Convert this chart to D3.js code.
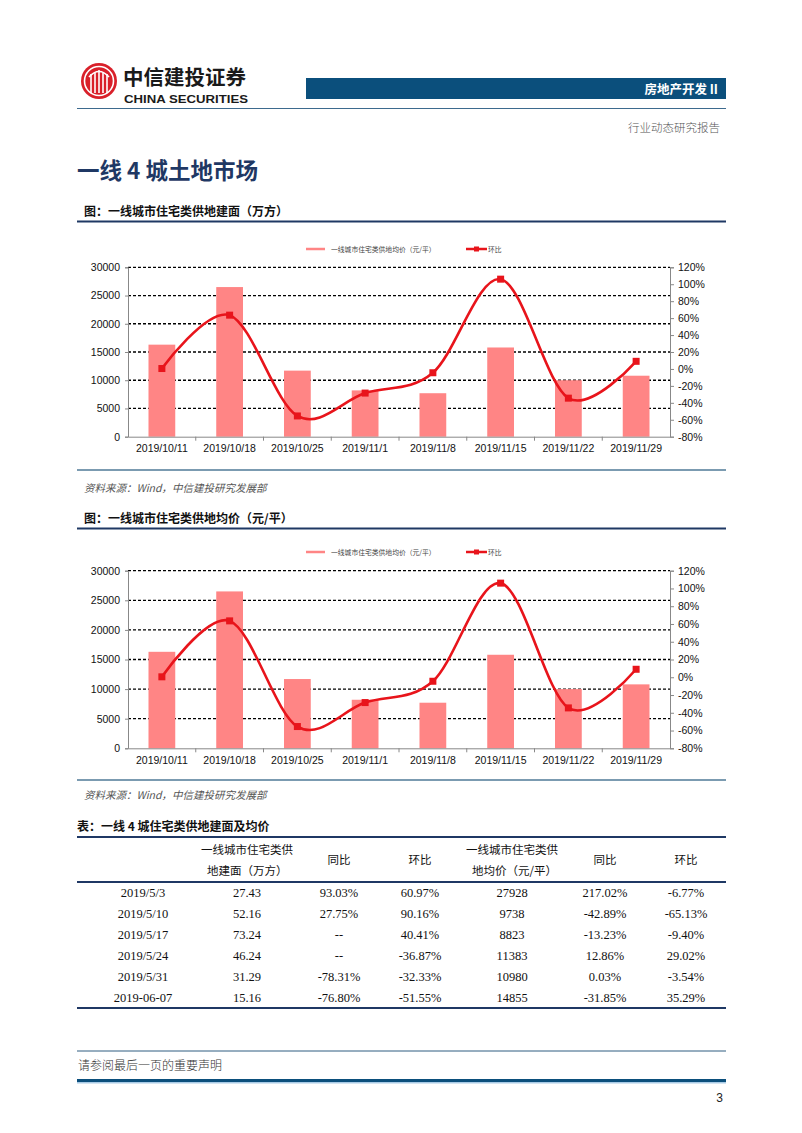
<!DOCTYPE html>
<html><head><meta charset="utf-8">
<script src="https://cdn.jsdelivr.net/npm/d3@7/dist/d3.min.js"></script>
<style>
html,body{margin:0;padding:0;background:#fff;}
svg{display:block;}
</style></head>
<body>
<svg id="page" width="802" height="1133"></svg>
<script>
// ---------- data ----------
const categories = ["2019/10/11","2019/10/18","2019/10/25","2019/11/1","2019/11/8","2019/11/15","2019/11/22","2019/11/29"];
const barValues = [16300, 26500, 11700, 8200, 7700, 15800, 10000, 10800];
const momValues = [0.5, 63.5, -55.5, -28.5, -4.5, 106, -34.5, 9];
const leftTicks = [0, 5000, 10000, 15000, 20000, 25000, 30000];
const rightTicks = [-80, -60, -40, -20, 0, 20, 40, 60, 80, 100, 120];
const barLegend = "一线城市住宅类供地均价（元/平）";
const lineLegend = "环比";

const tableHeader = [["", ""], ["一线城市住宅类供", "地建面（万方）"], ["同比"], ["环比"], ["一线城市住宅类供", "地均价（元/平）"], ["同比"], ["环比"]];
const tableDates = ["2019/5/3","2019/5/10","2019/5/17","2019/5/24","2019/5/31","2019-06-07"];
const tableArea = ["27.43","52.16","73.24","46.24","31.29","15.16"];
const tableAreaYoy = ["93.03%","27.75%","--","--","-78.31%","-76.80%"];
const tableAreaMom = ["60.97%","90.16%","40.41%","-36.87%","-32.33%","-51.55%"];
const tablePrice = ["27928","9738","8823","11383","10980","14855"];
const tablePriceYoy = ["217.02%","-42.89%","-13.23%","12.86%","0.03%","-31.85%"];
const tablePriceMom = ["-6.77%","-65.13%","-9.40%","29.02%","-3.54%","35.29%"];

// ---------- page ----------
const svg = d3.select("#page");
const CJK = "'Noto Sans CJK SC','Noto Sans',sans-serif";
const SANS = "'Liberation Sans',Arial,sans-serif";
const SERIF = "'Liberation Serif','Times New Roman',serif";
const NAVY = "#1f3864";
const BLUE = "#0b4f7c";

// logo
const logo = svg.append("g");
logo.append("circle").attr("cx", 99).attr("cy", 81).attr("r", 18).attr("fill", "#d9202a");
logo.append("circle").attr("cx", 99).attr("cy", 81).attr("r", 14.5).attr("fill", "none").attr("stroke", "#fff").attr("stroke-width", 1.6);
[-8, -4, 0, 4, 8].forEach((dx, i) => {
  logo.append("line").attr("x1", 99 + dx).attr("x2", 99 + dx)
    .attr("y1", 73 - (i % 2 ? 0 : 3) + (Math.abs(dx) === 8 ? 4 : 0)).attr("y2", 93)
    .attr("stroke", "#fff").attr("stroke-width", 1.6);
});
logo.append("path").attr("d", "M89,77 Q99,66 109,77").attr("fill", "none").attr("stroke", "#fff").attr("stroke-width", 1.6);
svg.append("text").attr("x", 123).attr("y", 84.5).text("中信建投证券")
  .attr("font-family", CJK).attr("font-weight", 700).attr("font-size", 20.5).attr("fill", "#1a1a1a");
svg.append("text").attr("x", 124).attr("y", 102.5).text("CHINA SECURITIES")
  .attr("font-family", SANS).attr("font-weight", 700).attr("font-size", 11.5).attr("fill", "#1a1a1a")
  .attr("textLength", 124).attr("lengthAdjust", "spacingAndGlyphs");

svg.append("rect").attr("x", 306).attr("y", 78).attr("width", 420).attr("height", 21).attr("fill", BLUE);
svg.append("text").attr("x", 718).attr("y", 94).attr("text-anchor", "end").text("房地产开发 II")
  .attr("font-family", CJK).attr("font-weight", 700).attr("font-size", 12.5).attr("fill", "#fff");
svg.append("line").attr("x1", 77).attr("x2", 726).attr("y1", 108.5).attr("y2", 108.5).attr("stroke", "#3d6a8e").attr("stroke-width", 1.2);
svg.append("text").attr("x", 720).attr("y", 132).attr("text-anchor", "end").text("行业动态研究报告")
  .attr("font-family", CJK).attr("font-weight", 300).attr("font-size", 11.5).attr("fill", "#555");

svg.append("text").attr("x", 77).attr("y", 179).text("一线 4 城土地市场")
  .attr("font-family", CJK).attr("font-weight", 700).attr("font-size", 22.5).attr("fill", NAVY);

function sectionTitle(y, text, lineY) {
  svg.append("text").attr("x", 84).attr("y", y).text(text)
    .attr("font-family", CJK).attr("font-weight", 700).attr("font-size", 12).attr("fill", "#111");
  svg.append("line").attr("x1", 77).attr("x2", 726).attr("y1", lineY).attr("y2", lineY)
    .attr("stroke", NAVY).attr("stroke-width", 2);
}
function sourceNote(lineY, y) {
  svg.append("line").attr("x1", 77).attr("x2", 726).attr("y1", lineY).attr("y2", lineY)
    .attr("stroke", "#4f7a97").attr("stroke-width", 1.6);
  svg.append("text").attr("x", 84).attr("y", y).text("资料来源：Wind，中信建投研究发展部")
    .attr("font-family", CJK).attr("font-style", "italic").attr("font-weight", 400).attr("font-size", 10.5).attr("fill", "#555");
}

// ---------- charts ----------
function drawChart(top, bottom, legendY) {
  const left = 128, right = 670;
  const g = svg.append("g");
  const x = d3.scaleBand().domain(categories).range([left, right]).paddingInner(0).paddingOuter(0);
  const yL = d3.scaleLinear().domain([0, 30000]).range([bottom, top]);
  const yR = d3.scaleLinear().domain([-80, 120]).range([bottom, top]);
  const bw = x.bandwidth() * 0.395;

  // grid
  g.append("g").selectAll("line").data(leftTicks.filter(d => d > 0)).join("line")
    .attr("x1", left).attr("x2", right).attr("y1", d => yL(d)).attr("y2", d => yL(d))
    .attr("stroke", "#000").attr("stroke-width", 1.3).attr("stroke-dasharray", "3,2");

  // bars
  g.append("g").selectAll("rect").data(barValues).join("rect")
    .attr("x", (d, i) => x(categories[i]) + x.bandwidth() / 2 - bw / 2)
    .attr("width", bw)
    .attr("y", d => yL(d)).attr("height", d => bottom - yL(d))
    .attr("fill", "#ff8585");

  // axes
  const axL = d3.axisLeft(yL).tickValues(leftTicks).tickSize(3).tickPadding(5).tickFormat(d3.format("d"));
  const gl = g.append("g").attr("transform", `translate(${left},0)`).call(axL);
  const axR = d3.axisRight(yR).tickValues(rightTicks).tickSize(4).tickPadding(4).tickFormat(d => d + "%");
  const gr = g.append("g").attr("transform", `translate(${right},0)`).call(axR);
  const axB = d3.axisBottom(x).tickSize(0).tickPadding(8);
  const gb = g.append("g").attr("transform", `translate(0,${bottom})`).call(axB);
  [gl, gr, gb].forEach(a => {
    a.select(".domain").attr("stroke", "#888").attr("stroke-width", 1);
    a.selectAll(".tick line").attr("stroke", "#888");
    a.selectAll("text").attr("font-family", SANS).attr("font-size", 10.5).attr("fill", "#111");
  });
  // category boundary ticks
  gb.append("g").selectAll("line").data(categories.slice(1)).join("line")
    .attr("x1", d => x(d)).attr("x2", d => x(d)).attr("y1", 0).attr("y2", 4).attr("stroke", "#888");

  // line
  const line = d3.line()
    .x((d, i) => x(categories[i]) + x.bandwidth() / 2)
    .y(d => yR(d))
    .curve(d3.curveCardinal.tension(0));
  g.append("path").datum(momValues).attr("d", line).attr("fill", "none")
    .attr("stroke", "#e8141b").attr("stroke-width", 2.6);
  g.append("g").selectAll("rect").data(momValues).join("rect")
    .attr("x", (d, i) => x(categories[i]) + x.bandwidth() / 2 - 3.5)
    .attr("y", d => yR(d) - 3.5).attr("width", 7).attr("height", 7).attr("fill", "#e8141b");

  // legend
  g.append("line").attr("x1", 306).attr("x2", 325).attr("y1", legendY).attr("y2", legendY)
    .attr("stroke", "#ff8585").attr("stroke-width", 2.5);
  g.append("text").attr("x", 331).attr("y", legendY + 2.5).text(barLegend)
    .attr("font-family", CJK).attr("font-size", 6.8).attr("fill", "#444");
  g.append("line").attr("x1", 466).attr("x2", 487).attr("y1", legendY).attr("y2", legendY)
    .attr("stroke", "#e8141b").attr("stroke-width", 2.5);
  g.append("rect").attr("x", 474).attr("y", legendY - 2.5).attr("width", 5).attr("height", 5).attr("fill", "#e8141b");
  g.append("text").attr("x", 488).attr("y", legendY + 2.5).text(lineLegend)
    .attr("font-family", CJK).attr("font-size", 6.8).attr("fill", "#444");
}

sectionTitle(216, "图：一线城市住宅类供地建面（万方）", 221.5);
drawChart(267.3, 436.7, 249);
sourceNote(470, 492);

sectionTitle(523, "图：一线城市住宅类供地均价（元/平）", 528.5);
drawChart(570.7, 748.3, 552);
sourceNote(780, 799);

// ---------- table ----------
svg.append("text").attr("x", 77).attr("y", 831).text("表：一线 4 城住宅类供地建面及均价")
  .attr("font-family", CJK).attr("font-weight", 700).attr("font-size", 12).attr("fill", "#111");
const colX = [143, 247, 339, 420, 512, 605, 686];
[[837, 2], [882, 2], [1008, 2]].forEach(([y, w]) => {
  svg.append("line").attr("x1", 77).attr("x2", 726).attr("y1", y).attr("y2", y).attr("stroke", NAVY).attr("stroke-width", w);
});
tableHeader.forEach((lines, c) => {
  if (lines.length === 2 && lines[0]) {
    svg.append("text").attr("x", colX[c]).attr("y", 854).attr("text-anchor", "middle").text(lines[0])
      .attr("font-family", CJK).attr("font-size", 11.5).attr("fill", "#111");
    svg.append("text").attr("x", colX[c] - 40).attr("y", 875).text(lines[1])
      .attr("font-family", CJK).attr("font-size", 11.5).attr("fill", "#111");
  } else if (lines.length === 1) {
    svg.append("text").attr("x", colX[c]).attr("y", 864).attr("text-anchor", "middle").text(lines[0])
      .attr("font-family", CJK).attr("font-size", 11.5).attr("fill", "#111");
  }
});
const cols = [tableDates, tableArea, tableAreaYoy, tableAreaMom, tablePrice, tablePriceYoy, tablePriceMom];
const rowY = [892, 913, 934, 955.5, 976.5, 997];
cols.forEach((col, c) => {
  col.forEach((v, r) => {
    svg.append("text").attr("x", colX[c]).attr("y", rowY[r] + 4.5).attr("text-anchor", "middle").text(v)
      .attr("font-family", SERIF).attr("font-size", 12.5).attr("fill", "#111");
  });
});

// ---------- footer ----------
svg.append("line").attr("x1", 77).attr("x2", 726).attr("y1", 1051).attr("y2", 1051).attr("stroke", "#2f5c80").attr("stroke-width", 1);
svg.append("text").attr("x", 78).attr("y", 1070).text("请参阅最后一页的重要声明")
  .attr("font-family", CJK).attr("font-weight", 300).attr("font-size", 12).attr("fill", "#333");
svg.append("rect").attr("x", 77).attr("y", 1079).attr("width", 649).attr("height", 3).attr("fill", BLUE);
svg.append("rect").attr("x", 77).attr("y", 1082).attr("width", 649).attr("height", 1.5).attr("fill", "#a9cbe6");
svg.append("text").attr("x", 723).attr("y", 1102).attr("text-anchor", "end").text("3")
  .attr("font-family", SANS).attr("font-size", 12).attr("fill", "#222");
</script>
</body></html>
